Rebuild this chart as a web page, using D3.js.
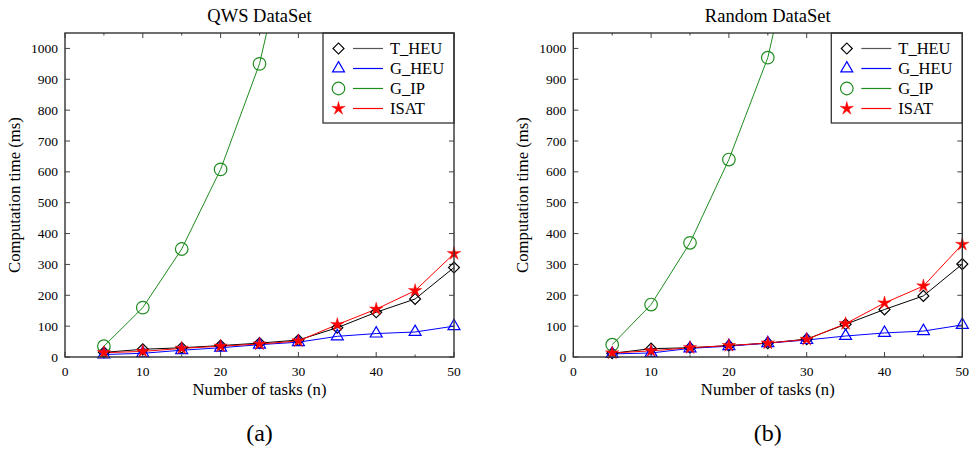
<!DOCTYPE html>
<html>
<head>
<meta charset="utf-8">
<script src="https://cdn.jsdelivr.net/npm/d3@7"></script>
<style>
  body { margin: 0; background: #fff; }
</style>
</head>
<body>
<svg id="chart" width="972" height="452" font-family="Liberation Serif, Times New Roman, serif"></svg>
<script>
var tasks = [5, 10, 15, 20, 25, 30, 35, 40, 45, 50];
var seriesNames = ["T_HEU", "G_HEU", "G_IP", "ISAT"];
var seriesColors = ["#000000", "#0000ff", "#1e8c1e", "#ff0000"];

// QWS DataSet
var qwsTHeu = [15, 25, 30, 37, 45, 55, 95, 145, 188, 290];
var qwsGHeu = [8, 12, 22, 30, 40, 48, 67, 76, 81, 100];
var qwsGIp  = [35, 160, 350, 608, 950, 1500];
var qwsIsat = [14, 18, 28, 35, 42, 52, 105, 155, 215, 335];

// Random DataSet
var rndTHeu = [12, 27, 30, 37, 45, 58, 106, 154, 198, 301];
var rndGHeu = [10, 13, 28, 35, 45, 55, 68, 78, 84, 104];
var rndGIp  = [40, 170, 370, 640, 970, 1525];
var rndIsat = [13, 20, 30, 37, 45, 57, 108, 175, 230, 365];

var yTicks = d3.range(0, 1001, 100);
var xMajor = [0, 10, 20, 30, 40, 50];
var xMinor = [5, 15, 25, 35, 45];

var svg = d3.select("#chart");
var plotW = 389, plotTop = 33, plotBottom = 357;

// thin five-pointed star, like the plotting program's one
var thinStar = {
	draw: function(context, size) {
		var r = Math.sqrt(size), ri = r * 0.33;
		for (var k = 0; k < 10; k++) {
			var a = -Math.PI / 2 + k * Math.PI / 5, rr = k % 2 ? ri : r;
			if (k == 0) context.moveTo(rr * Math.cos(a), rr * Math.sin(a));
			else context.lineTo(rr * Math.cos(a), rr * Math.sin(a));
		}
		context.closePath();
	}
};

var symbols = [
	d3.symbol().type(d3.symbolSquare).size(60),
	d3.symbol().type(d3.symbolTriangle).size(62),
	d3.symbol().type(d3.symbolCircle).size(124),
	d3.symbol().type(thinStar).size(49)
];

function markerAttrs(sel, i) {
	sel.attr("d", symbols[i]())
		.attr("fill", i == 3 ? seriesColors[i] : "none")
		.attr("stroke", seriesColors[i])
		.attr("stroke-width", i == 3 ? 0.5 : 1.2);
}

function drawPanel(left, id, title, caption, allSeries) {
	var x = d3.scaleLinear().domain([0, 50]).range([left, left + plotW]);
	var y = d3.scaleLinear().domain([0, 1050]).range([plotBottom, plotTop]);
	var g = svg.append("g");

	g.append("clipPath").attr("id", "clip" + id)
		.append("rect")
		.attr("x", left).attr("y", plotTop)
		.attr("width", plotW).attr("height", plotBottom - plotTop);

	// inward ticks on all four sides
	var tickCol = "#444";
	yTicks.forEach(function(v) {
		g.append("line").attr("x1", left).attr("x2", left + 5)
			.attr("y1", y(v)).attr("y2", y(v)).attr("stroke", tickCol);
		g.append("line").attr("x1", left + plotW).attr("x2", left + plotW - 5)
			.attr("y1", y(v)).attr("y2", y(v)).attr("stroke", tickCol);
		g.append("text").attr("x", x(0) - 7).attr("y", y(v) + 4.5)
			.attr("text-anchor", "end").attr("font-size", 13.5).text(v);
	});
	xMajor.concat(xMinor).forEach(function(v) {
		var len = xMajor.indexOf(v) >= 0 ? 5 : 2.5;
		g.append("line").attr("x1", x(v)).attr("x2", x(v))
			.attr("y1", plotBottom).attr("y2", plotBottom - len).attr("stroke", tickCol);
		g.append("line").attr("x1", x(v)).attr("x2", x(v))
			.attr("y1", plotTop).attr("y2", plotTop + len).attr("stroke", tickCol);
	});
	xMajor.forEach(function(v) {
		g.append("text").attr("x", x(v)).attr("y", plotBottom + 19)
			.attr("text-anchor", "middle").attr("font-size", 13.5).text(v);
	});

	// series
	var line = d3.line()
		.x(function(d, i) { return x(tasks[i]); })
		.y(function(d) { return y(d); });
	allSeries.forEach(function(vals, i) {
		g.append("path").datum(vals)
			.attr("d", line)
			.attr("fill", "none")
			.attr("stroke", seriesColors[i])
			.attr("stroke-width", 1)
			.attr("clip-path", "url(#clip" + id + ")");
	});
	allSeries.forEach(function(vals, i) {
		g.selectAll(".m" + i).data(vals.filter(function(d) { return d <= 1050; }))
			.enter().append("path")
			.attr("class", "m" + i)
			.attr("transform", function(d, j) {
				return "translate(" + x(tasks[j]) + "," + y(d) + ")" + (i == 0 ? " rotate(45)" : "");
			})
			.call(markerAttrs, i);
	});

	// legend
	var lx = left + 258, ly = plotTop;
	g.append("rect").attr("x", lx).attr("y", ly)
		.attr("width", left + plotW - lx).attr("height", 90)
		.attr("fill", "#fff").attr("stroke", "#333").attr("stroke-width", 1.3);
	seriesNames.forEach(function(name, i) {
		var cy = ly + 15.5 + i * 20;
		g.append("path")
			.attr("transform", "translate(" + (lx + 15.5) + "," + cy + ")" + (i == 0 ? " rotate(45)" : ""))
			.call(markerAttrs, i);
		g.append("line").attr("x1", lx + 30).attr("x2", lx + 60)
			.attr("y1", cy).attr("y2", cy)
			.attr("stroke", i == 0 ? "#555" : seriesColors[i]).attr("stroke-width", 1.2);
		g.append("text").attr("x", lx + 67).attr("y", cy + 5.5)
			.attr("font-size", 16.5).text(name);
	});

	// frame
	g.append("rect").attr("x", left).attr("y", plotTop)
		.attr("width", plotW).attr("height", plotBottom - plotTop)
		.attr("fill", "none").attr("stroke", "#333").attr("stroke-width", 1.4);

	// titles
	var cx = left + plotW / 2;
	g.append("text").attr("x", cx).attr("y", 22).attr("text-anchor", "middle")
		.attr("font-size", 18.5).text(title);
	g.append("text").attr("x", cx).attr("y", 395).attr("text-anchor", "middle")
		.attr("font-size", 16.7).text("Number of tasks (n)");
	g.append("text")
		.attr("transform", "translate(" + (left - 45) + "," + ((plotTop + plotBottom) / 2) + ") rotate(-90)")
		.attr("text-anchor", "middle")
		.attr("font-size", 16.7).text("Computation time (ms)");
	g.append("text").attr("x", cx).attr("y", 441).attr("text-anchor", "middle")
		.attr("font-size", 24).text(caption);
}

drawPanel(65, "a", "QWS DataSet", "(a)", [qwsTHeu, qwsGHeu, qwsGIp, qwsIsat]);
drawPanel(573.3, "b", "Random DataSet", "(b)", [rndTHeu, rndGHeu, rndGIp, rndIsat]);
</script>
</body>
</html>
